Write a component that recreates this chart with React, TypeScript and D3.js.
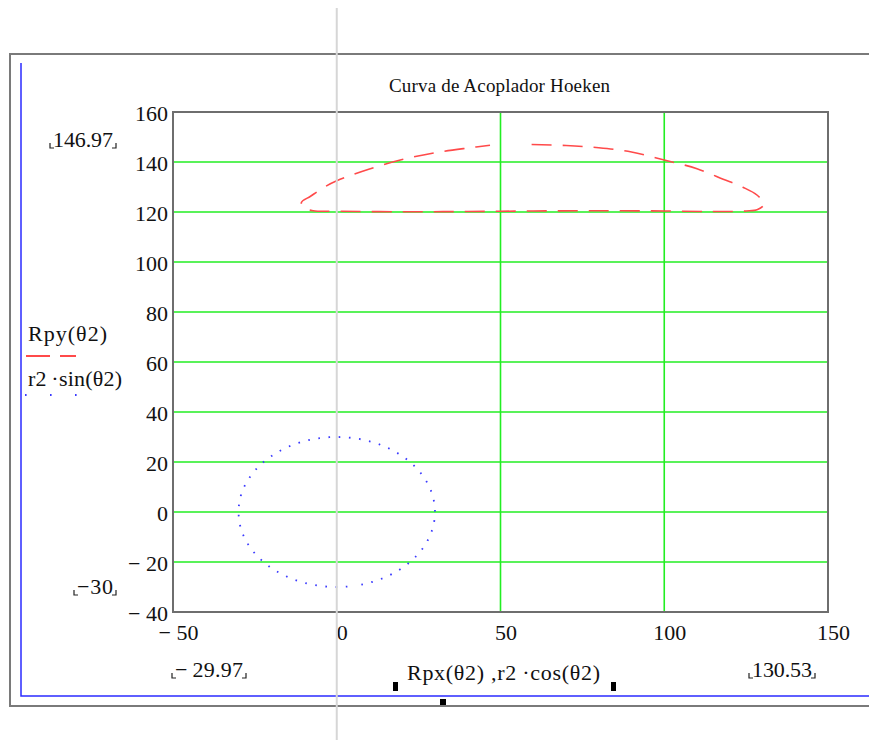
import React from "react";
import * as d3 from "d3";

const TITLE = "Curva de Acoplador Hoeken";
const X_TICKS = [-50, 0, 50, 100, 150];
const Y_TICKS = [-40, -20, 0, 20, 40, 60, 80, 100, 120, 140, 160];
const X_GRID = [50, 100];
const Y_GRID = [-20, 0, 20, 40, 60, 80, 100, 120, 140];

// Coupler curve Rpx(θ2), Rpy(θ2) (drawn from top-middle clockwise)
const RPX = [59.5, 70, 80, 90, 100, 110, 118, 124, 128.3, 130.5, 128.5, 125, 115, 100, 80, 60, 40, 20, 0, -7.2, -9.7, -10.8, -8, -4, 0, 10, 20, 30, 40, 46.8];
const RPY = [146.97, 146.6, 145.7, 144, 140.8, 137.3, 133.1, 129.9, 126.8, 123.2, 121, 120.4, 120.2, 120.4, 120.5, 120.4, 120.2, 120.1, 120.3, 120.5, 121.5, 123.8, 126.3, 129.8, 132.5, 137.2, 141, 143.7, 145.6, 146.7];

// Crank circle r2·cos(θ2), r2·sin(θ2), r2 = 30 (starting at the bottom)
const CX = [0, 5.21, 10.26, 15, 19.28, 22.98, 25.98, 28.19, 29.54, 30, 29.54, 28.19, 25.98, 22.98, 19.28, 15, 10.26, 5.21, 0, -5.21, -10.26, -15, -19.28, -22.98, -25.98, -28.19, -29.54, -29.97, -29.54, -28.19, -25.98, -22.98, -19.28, -15, -10.26, -5.21];
const CY = [-30, -29.54, -28.19, -25.98, -22.98, -19.28, -15, -10.26, -5.21, 0, 5.21, 10.26, 15, 19.28, 22.98, 25.98, 28.19, 29.54, 30, 29.54, 28.19, 25.98, 22.98, 19.28, 15, 10.26, 5.21, 0, -5.21, -10.26, -15, -19.28, -22.98, -25.98, -28.19, -29.54];

const RANGE_LABELS = ["146.97", "\u221230", "\u2212\u200929.97", "130.53"];

const FONT = "'Liberation Serif', 'Times New Roman', serif";

function fmt(v: number) {
  return v < 0 ? "\u2212 " + Math.abs(v) : String(v);
}

function Bracketed({ x, y, text, len }: { x: number; y: number; text: string; len: number }) {
  const l = x - 3;
  const r = x + len + 3;
  return (
    <g>
      <text x={x} y={y} fontSize={22} fontFamily={FONT} fill="#111" textLength={len} lengthAdjust="spacing">{text}</text>
      <path d={`M${l},${y - 4}V${y + 1}H${l + 4}`} stroke="#222" strokeWidth={1.2} fill="none" />
      <path d={`M${r - 4},${y + 1}H${r}V${y - 4}`} stroke="#222" strokeWidth={1.2} fill="none" />
    </g>
  );
}

export default function App() {
  const W = 869, H = 740;
  const x = d3.scaleLinear().domain([-50, 150]).range([173, 828]);
  const y = d3.scaleLinear().domain([-40, 160]).range([612, 112]);

  const coupler = RPX.map((v, i) => [x(v), y(RPY[i])] as [number, number]);
  const circle = CX.map((v, i) => [x(v), y(CY[i])] as [number, number]);
  const openLine = d3.line().curve(d3.curveCatmullRom.alpha(0.5));
  const closedLine = d3.line().curve(d3.curveCatmullRomClosed.alpha(0.5));

  return (
    <svg width={W} height={H} style={{ position: "absolute", left: 0, top: 0, background: "#fff" }}>
      {/* outer frame */}
      <rect x={10} y={54} width={900} height={652} fill="none" stroke="#7a7a7a" strokeWidth={2} />
      <path d={`M21,63V696H${W}`} fill="none" stroke="#2b2bff" strokeWidth={1.5} />

      {/* title */}
      <text x={389} y={92} fontSize={19} fontFamily={FONT} fill="#111" textLength={221} lengthAdjust="spacing">{TITLE}</text>

      {/* grid */}
      {Y_GRID.map((v) => (
        <line key={"gy" + v} x1={x(-50)} x2={x(150)} y1={y(v)} y2={y(v)} stroke="#22ee22" strokeWidth={1.6} />
      ))}
      {X_GRID.map((v) => (
        <line key={"gx" + v} x1={x(v)} x2={x(v)} y1={y(-40)} y2={y(160)} stroke="#22ee22" strokeWidth={1.6} />
      ))}

      {/* plot box */}
      <rect x={x(-50)} y={y(160)} width={x(150) - x(-50)} height={y(-40) - y(160)} fill="none" stroke="#6e6e6e" strokeWidth={2} />

      {/* series */}
      <path d={openLine(coupler) || ""} fill="none" stroke="#ff4a4a" strokeWidth={1.6} strokeDasharray="20 11" />
      <path d={closedLine(circle) || ""} fill="none" stroke="#3a3aff" strokeWidth={1.8} strokeDasharray="1.6 8.6" strokeDashoffset={2.6} />

      {/* tick labels */}
      {Y_TICKS.map((v) => (
        <text key={"ty" + v} x={168} y={y(v) + 9} textAnchor="end" fontSize={22} fontFamily={FONT} fill="#111">{fmt(v)}</text>
      ))}
      {X_TICKS.map((v) => (
        <text key={"tx" + v} x={x(v) + 5.5} y={640} textAnchor="middle" fontSize={22} fontFamily={FONT} fill="#111">{fmt(v)}</text>
      ))}

      {/* range labels */}
      <Bracketed x={53} y={147} text={RANGE_LABELS[0]} len={60} />
      <Bracketed x={77} y={594} text={RANGE_LABELS[1]} len={36} />
      <Bracketed x={175} y={677} text={RANGE_LABELS[2]} len={68} />
      <Bracketed x={752} y={677} text={RANGE_LABELS[3]} len={60} />

      {/* y legend */}
      <text x={28} y={341} fontSize={22} fontFamily={FONT} fill="#111" textLength={79} lengthAdjust="spacing">Rpy(θ2)</text>
      <line x1={26} x2={76} y1={356} y2={356} stroke="#ff4a4a" strokeWidth={1.8} strokeDasharray="24 10" />
      <text x={28} y={386} fontSize={22} fontFamily={FONT} fill="#111" textLength={94} lengthAdjust="spacing">r2{"\u2009"}·sin(θ2)</text>
      <line x1={25} x2={80} y1={395} y2={395} stroke="#3a3aff" strokeWidth={1.8} strokeDasharray="1.6 23.4" />

      {/* x legend */}
      <text x={407} y={680} fontSize={22} fontFamily={FONT} fill="#111" textLength={193} lengthAdjust="spacing">Rpx(θ2) ,r2{"\u2009"}·cos(θ2)</text>
      <rect x={393} y={682} width={5} height={9} fill="#000" />
      <rect x={611} y={682} width={5} height={9} fill="#000" />
      <rect x={440} y={699} width={6} height={6} fill="#000" />

      {/* cursor line at x = 0 */}
      <line x1={x(0)} x2={x(0)} y1={8} y2={H} stroke="#d6d6d6" strokeWidth={2} />
    </svg>
  );
}
